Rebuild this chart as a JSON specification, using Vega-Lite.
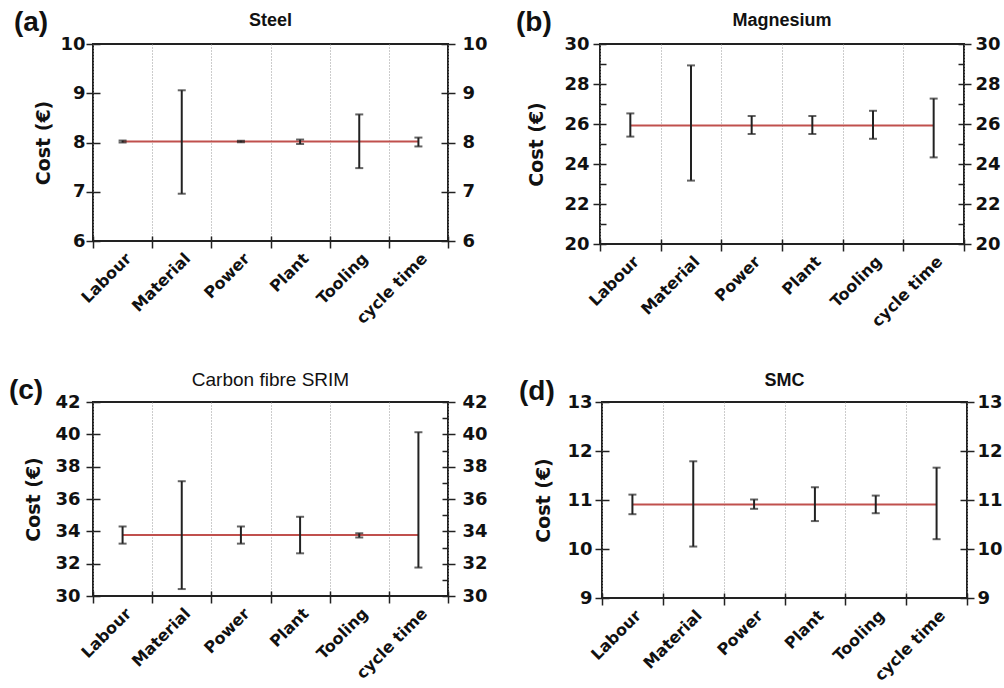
{
  "$schema": "https://vega.github.io/schema/vega-lite/v6.json",
  "padding": {"left": 8, "top": 9, "right": 0, "bottom": 0},
  "config": {
    "font": "Liberation Sans",
    "view": {"stroke": "#222", "strokeWidth": 2},
    "axis": {"domain": false, "grid": false, "labelColor": "#111", "labelFont": "DejaVu Sans", "labelFontWeight": "bold", "labelFontSize": 18, "tickColor": "#222", "tickWidth": 1.5, "titleColor": "#111", "titleFont": "DejaVu Sans", "titleFontWeight": "bold", "titleFontSize": 19, "labelPadding": 2},
    "title": {"color": "#111"}
  },
  "datasets": {
    "steel": [
      {"cat": "Labour", "lo": 8.0, "hi": 8.04, "mean": 8.02},
      {"cat": "Material", "lo": 6.96, "hi": 9.06, "mean": 8.02},
      {"cat": "Power", "lo": 8.005, "hi": 8.035, "mean": 8.02},
      {"cat": "Plant", "lo": 7.97, "hi": 8.06, "mean": 8.02},
      {"cat": "Tooling", "lo": 7.48, "hi": 8.57, "mean": 8.02},
      {"cat": "cycle time", "lo": 7.92, "hi": 8.1, "mean": 8.02}
    ],
    "mg": [
      {"cat": "Labour", "lo": 25.37, "hi": 26.53, "mean": 25.93},
      {"cat": "Material", "lo": 23.17, "hi": 28.93, "mean": 25.93},
      {"cat": "Power", "lo": 25.5, "hi": 26.4, "mean": 25.93},
      {"cat": "Plant", "lo": 25.5, "hi": 26.4, "mean": 25.93},
      {"cat": "Tooling", "lo": 25.26, "hi": 26.66, "mean": 25.93},
      {"cat": "cycle time", "lo": 24.33, "hi": 27.27, "mean": 25.93}
    ],
    "cf": [
      {"cat": "Labour", "lo": 33.24, "hi": 34.3, "mean": 33.77},
      {"cat": "Material", "lo": 30.43, "hi": 37.1, "mean": 33.77},
      {"cat": "Power", "lo": 33.24, "hi": 34.3, "mean": 33.77},
      {"cat": "Plant", "lo": 32.64, "hi": 34.9, "mean": 33.77},
      {"cat": "Tooling", "lo": 33.62, "hi": 33.88, "mean": 33.77},
      {"cat": "cycle time", "lo": 31.76, "hi": 40.13, "mean": 33.77}
    ],
    "smc": [
      {"cat": "Labour", "lo": 10.71, "hi": 11.11, "mean": 10.91},
      {"cat": "Material", "lo": 10.05, "hi": 11.79, "mean": 10.91},
      {"cat": "Power", "lo": 10.82, "hi": 11.01, "mean": 10.91},
      {"cat": "Plant", "lo": 10.57, "hi": 11.26, "mean": 10.91},
      {"cat": "Tooling", "lo": 10.73, "hi": 11.09, "mean": 10.91},
      {"cat": "cycle time", "lo": 10.2, "hi": 11.66, "mean": 10.91}
    ]
  },
  "spacing": 39,
  "vconcat": [
    {
      "spacing": 26,
      "hconcat": [
        {
          "title": {"text": "(a)", "anchor": "start", "fontSize": 28, "fontWeight": "bold", "offset": -26, "dx": -20},
          "vconcat": [
            {
              "title": {"text": "Steel", "fontSize": 18, "fontWeight": "bold", "offset": 5},
              "width": 355, "height": 197,
              "data": {"name": "steel"},
              "layer": [
                {"mark": {"type": "line", "color": "#c0504d", "strokeWidth": 2},
                 "encoding": {
                   "x": {"field": "cat", "type": "nominal", "scale": {"type": "band", "domain": ["Labour", "Material", "Power", "Plant", "Tooling", "cycle time"], "paddingInner": 0, "paddingOuter": 0}, "axis": {"orient": "bottom", "title": null, "labelAngle": -45, "labelFontSize": 16, "tickBand": "extent", "tickSize": 7, "grid": true, "gridDash": [1, 2], "gridColor": "#999", "gridWidth": 1}},
                   "y": {"field": "mean", "type": "quantitative", "scale": {"domain": [6, 10]}, "axis": {"orient": "left", "values": [6, 7, 8, 9, 10], "title": "Cost (€)", "titleFontSize": 19, "tickSize": 7, "labelPadding": 1, "titlePadding": 6}}
                 }},
                {"mark": {"type": "rule", "strokeWidth": 2, "color": "#222"},
                 "encoding": {
                   "x": {"field": "cat", "type": "nominal", "scale": {"type": "band", "domain": ["Labour", "Material", "Power", "Plant", "Tooling", "cycle time"], "paddingInner": 0, "paddingOuter": 0}, "axis": {"orient": "bottom", "title": null, "labels": false, "tickBand": "extent", "tickSize": -5}},
                   "y": {"field": "lo", "type": "quantitative", "scale": {"domain": [6, 10]}, "axis": {"orient": "left", "values": [6, 7, 8, 9, 10], "title": null, "labels": false, "tickSize": -7}},
                   "y2": {"field": "hi"}
                 }},
                {"mark": {"type": "tick", "size": 8, "thickness": 2, "color": "#222"},
                 "encoding": {
                   "x": {"field": "cat", "type": "nominal", "scale": {"type": "band", "domain": ["Labour", "Material", "Power", "Plant", "Tooling", "cycle time"], "paddingInner": 0, "paddingOuter": 0}, "axis": null},
                   "y": {"field": "hi", "type": "quantitative", "scale": {"domain": [6, 10]}, "axis": {"orient": "right", "values": [6, 7, 8, 9, 10], "title": null, "tickSize": 7, "labelPadding": 7}}
                 }},
                {"mark": {"type": "tick", "size": 8, "thickness": 2, "color": "#222"},
                 "encoding": {
                   "x": {"field": "cat", "type": "nominal", "scale": {"type": "band", "domain": ["Labour", "Material", "Power", "Plant", "Tooling", "cycle time"], "paddingInner": 0, "paddingOuter": 0}, "axis": null},
                   "y": {"field": "lo", "type": "quantitative", "scale": {"domain": [6, 10]}, "axis": {"orient": "right", "values": [6, 7, 8, 9, 10], "title": null, "labels": false, "tickSize": -7}}
                 }}
              ],
              "resolve": {"scale": {"x": "independent", "y": "independent"}, "axis": {"x": "independent", "y": "independent"}}
            }
          ]
        },
        {
          "title": {"text": "(b)", "anchor": "start", "fontSize": 28, "fontWeight": "bold", "offset": -26, "dx": -11},
          "vconcat": [
            {
              "title": {"text": "Magnesium", "fontSize": 18, "fontWeight": "bold", "offset": 5},
              "width": 364, "height": 200,
              "data": {"name": "mg"},
              "layer": [
                {"mark": {"type": "line", "color": "#c0504d", "strokeWidth": 2},
                 "encoding": {
                   "x": {"field": "cat", "type": "nominal", "scale": {"type": "band", "domain": ["Labour", "Material", "Power", "Plant", "Tooling", "cycle time"], "paddingInner": 0, "paddingOuter": 0}, "axis": {"orient": "bottom", "title": null, "labelAngle": -45, "labelFontSize": 16, "tickBand": "extent", "tickSize": 7, "grid": true, "gridDash": [1, 2], "gridColor": "#999", "gridWidth": 1}},
                   "y": {"field": "mean", "type": "quantitative", "scale": {"domain": [20, 30]}, "axis": {"orient": "left", "values": [20, 22, 24, 26, 28, 30], "title": "Cost (€)", "titleFontSize": 19, "tickSize": 7, "labelPadding": 4, "titlePadding": 17}}
                 }},
                {"mark": {"type": "rule", "strokeWidth": 2, "color": "#222"},
                 "encoding": {
                   "x": {"field": "cat", "type": "nominal", "scale": {"type": "band", "domain": ["Labour", "Material", "Power", "Plant", "Tooling", "cycle time"], "paddingInner": 0, "paddingOuter": 0}, "axis": {"orient": "bottom", "title": null, "labels": false, "tickBand": "extent", "tickSize": -5}},
                   "y": {"field": "lo", "type": "quantitative", "scale": {"domain": [20, 30]}, "axis": {"orient": "left", "values": [20, 21, 22, 23, 24, 25, 26, 27, 28, 29, 30], "title": null, "labels": false, "tickSize": -6}},
                   "y2": {"field": "hi"}
                 }},
                {"mark": {"type": "tick", "size": 8, "thickness": 2, "color": "#222"},
                 "encoding": {
                   "x": {"field": "cat", "type": "nominal", "scale": {"type": "band", "domain": ["Labour", "Material", "Power", "Plant", "Tooling", "cycle time"], "paddingInner": 0, "paddingOuter": 0}, "axis": null},
                   "y": {"field": "hi", "type": "quantitative", "scale": {"domain": [20, 30]}, "axis": {"orient": "right", "values": [20, 22, 24, 26, 28, 30], "title": null, "tickSize": 7, "labelPadding": 4}}
                 }},
                {"mark": {"type": "tick", "size": 8, "thickness": 2, "color": "#222"},
                 "encoding": {
                   "x": {"field": "cat", "type": "nominal", "scale": {"type": "band", "domain": ["Labour", "Material", "Power", "Plant", "Tooling", "cycle time"], "paddingInner": 0, "paddingOuter": 0}, "axis": null},
                   "y": {"field": "lo", "type": "quantitative", "scale": {"domain": [20, 30]}, "axis": {"orient": "right", "values": [20, 21, 22, 23, 24, 25, 26, 27, 28, 29, 30], "title": null, "labels": false, "tickSize": -6}}
                 }}
              ],
              "resolve": {"scale": {"x": "independent", "y": "independent"}, "axis": {"x": "independent", "y": "independent"}}
            }
          ]
        }
      ]
    },
    {
      "spacing": 29,
      "hconcat": [
        {
          "title": {"text": "(c)", "anchor": "start", "fontSize": 28, "fontWeight": "bold", "offset": -35, "dx": -15},
          "vconcat": [
            {
              "title": {"text": "Carbon fibre SRIM", "fontSize": 19, "fontWeight": "normal", "offset": 3},
              "width": 355, "height": 194,
              "data": {"name": "cf"},
              "layer": [
                {"mark": {"type": "line", "color": "#c0504d", "strokeWidth": 2},
                 "encoding": {
                   "x": {"field": "cat", "type": "nominal", "scale": {"type": "band", "domain": ["Labour", "Material", "Power", "Plant", "Tooling", "cycle time"], "paddingInner": 0, "paddingOuter": 0}, "axis": {"orient": "bottom", "title": null, "labelAngle": -45, "labelFontSize": 16, "tickBand": "extent", "tickSize": 7, "grid": true, "gridDash": [1, 2], "gridColor": "#999", "gridWidth": 1}},
                   "y": {"field": "mean", "type": "quantitative", "scale": {"domain": [30, 42]}, "axis": {"orient": "left", "values": [30, 32, 34, 36, 38, 40, 42], "title": "Cost (€)", "titleFontSize": 19, "tickSize": 7, "labelPadding": 6, "titlePadding": 11}}
                 }},
                {"mark": {"type": "rule", "strokeWidth": 2, "color": "#222"},
                 "encoding": {
                   "x": {"field": "cat", "type": "nominal", "scale": {"type": "band", "domain": ["Labour", "Material", "Power", "Plant", "Tooling", "cycle time"], "paddingInner": 0, "paddingOuter": 0}, "axis": {"orient": "bottom", "title": null, "labels": false, "tickBand": "extent", "tickSize": -5}},
                   "y": {"field": "lo", "type": "quantitative", "scale": {"domain": [30, 42]}, "axis": {"orient": "left", "values": [30, 32, 34, 36, 38, 40, 42], "title": null, "labels": false, "tickSize": -7}},
                   "y2": {"field": "hi"}
                 }},
                {"mark": {"type": "tick", "size": 8, "thickness": 2, "color": "#222"},
                 "encoding": {
                   "x": {"field": "cat", "type": "nominal", "scale": {"type": "band", "domain": ["Labour", "Material", "Power", "Plant", "Tooling", "cycle time"], "paddingInner": 0, "paddingOuter": 0}, "axis": null},
                   "y": {"field": "hi", "type": "quantitative", "scale": {"domain": [30, 42]}, "axis": {"orient": "right", "values": [30, 32, 34, 36, 38, 40, 42], "title": null, "tickSize": 7, "labelPadding": 7}}
                 }},
                {"mark": {"type": "tick", "size": 8, "thickness": 2, "color": "#222"},
                 "encoding": {
                   "x": {"field": "cat", "type": "nominal", "scale": {"type": "band", "domain": ["Labour", "Material", "Power", "Plant", "Tooling", "cycle time"], "paddingInner": 0, "paddingOuter": 0}, "axis": null},
                   "y": {"field": "lo", "type": "quantitative", "scale": {"domain": [30, 42]}, "axis": {"orient": "right", "values": [30, 31, 32, 33, 34, 35, 36, 37, 38, 39, 40, 41, 42], "title": null, "labels": false, "tickSize": -6}}
                 }}
              ],
              "resolve": {"scale": {"x": "independent", "y": "independent"}, "axis": {"x": "independent", "y": "independent"}}
            }
          ]
        },
        {
          "title": {"text": "(d)", "anchor": "start", "fontSize": 28, "fontWeight": "bold", "offset": -35, "dx": -15},
          "vconcat": [
            {
              "title": {"text": "SMC", "fontSize": 18, "fontWeight": "bold", "offset": 3},
              "width": 365, "height": 196,
              "data": {"name": "smc"},
              "layer": [
                {"mark": {"type": "line", "color": "#c0504d", "strokeWidth": 2},
                 "encoding": {
                   "x": {"field": "cat", "type": "nominal", "scale": {"type": "band", "domain": ["Labour", "Material", "Power", "Plant", "Tooling", "cycle time"], "paddingInner": 0, "paddingOuter": 0}, "axis": {"orient": "bottom", "title": null, "labelAngle": -45, "labelFontSize": 16, "tickBand": "extent", "tickSize": 7, "grid": true, "gridDash": [1, 2], "gridColor": "#999", "gridWidth": 1}},
                   "y": {"field": "mean", "type": "quantitative", "scale": {"domain": [9, 13]}, "axis": {"orient": "left", "values": [9, 10, 11, 12, 13], "title": "Cost (€)", "titleFontSize": 19, "tickSize": 7, "labelPadding": 3, "titlePadding": 13}}
                 }},
                {"mark": {"type": "rule", "strokeWidth": 2, "color": "#222"},
                 "encoding": {
                   "x": {"field": "cat", "type": "nominal", "scale": {"type": "band", "domain": ["Labour", "Material", "Power", "Plant", "Tooling", "cycle time"], "paddingInner": 0, "paddingOuter": 0}, "axis": {"orient": "bottom", "title": null, "labels": false, "tickBand": "extent", "tickSize": -5}},
                   "y": {"field": "lo", "type": "quantitative", "scale": {"domain": [9, 13]}, "axis": {"orient": "left", "values": [9, 10, 11, 12, 13], "title": null, "labels": false, "tickSize": -7}},
                   "y2": {"field": "hi"}
                 }},
                {"mark": {"type": "tick", "size": 8, "thickness": 2, "color": "#222"},
                 "encoding": {
                   "x": {"field": "cat", "type": "nominal", "scale": {"type": "band", "domain": ["Labour", "Material", "Power", "Plant", "Tooling", "cycle time"], "paddingInner": 0, "paddingOuter": 0}, "axis": null},
                   "y": {"field": "hi", "type": "quantitative", "scale": {"domain": [9, 13]}, "axis": {"orient": "right", "values": [9, 10, 11, 12, 13], "title": null, "tickSize": 7, "labelPadding": 3}}
                 }},
                {"mark": {"type": "tick", "size": 8, "thickness": 2, "color": "#222"},
                 "encoding": {
                   "x": {"field": "cat", "type": "nominal", "scale": {"type": "band", "domain": ["Labour", "Material", "Power", "Plant", "Tooling", "cycle time"], "paddingInner": 0, "paddingOuter": 0}, "axis": null},
                   "y": {"field": "lo", "type": "quantitative", "scale": {"domain": [9, 13]}, "axis": {"orient": "right", "values": [9, 10, 11, 12, 13], "title": null, "labels": false, "tickSize": -7}}
                 }}
              ],
              "resolve": {"scale": {"x": "independent", "y": "independent"}, "axis": {"x": "independent", "y": "independent"}}
            }
          ]
        }
      ]
    }
  ]
}
